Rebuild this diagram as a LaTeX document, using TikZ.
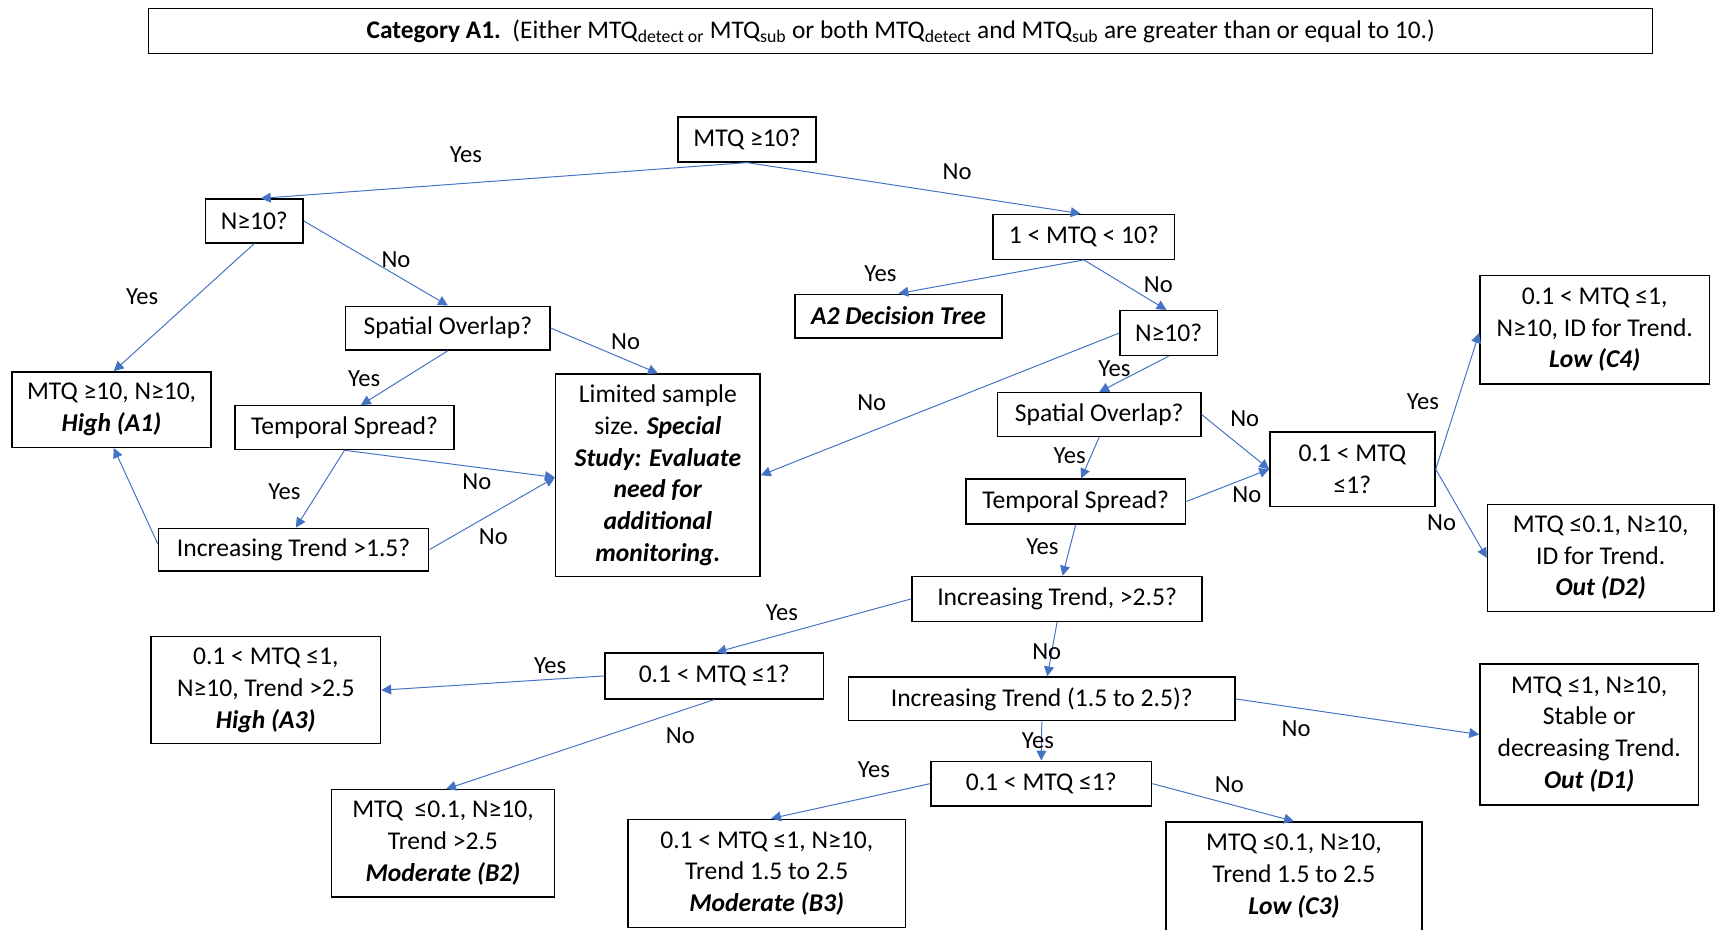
\documentclass[tikz,border=0pt]{standalone}
\usepackage{fontspec}
\setmainfont{Carlito}
\usetikzlibrary{arrows.meta}
\definecolor{lnblue}{HTML}{4472C4}
\tikzset{
  bx/.style={draw=black, line width=1.3pt, inner sep=0pt, align=center, font=\fontsize{23.4}{29}\selectfont},
  conn/.style={draw=lnblue, line width=0.9pt, -{Triangle[width=9pt,length=9pt]}},
  lbl/.style={font=\fontsize{22.5}{26}\selectfont, inner sep=0pt}
}
\begin{document}
\begin{tikzpicture}[x=1pt,y=-1pt]
\useasboundingbox (0,0) rectangle (1568,850);
% title
\node[bx, minimum width=1375, minimum height=41, font=\fontsize{23.2}{26}\selectfont] (title) at (823.5,28.5)
 {\textbf{Category A1.}\ \ (Either MTQ\textsubscript{detect or} MTQ\textsubscript{sub} or both MTQ\textsubscript{detect} and MTQ\textsubscript{sub} are greater than or equal to 10.)};
% decision nodes
\node[bx, minimum width=126, minimum height=41] (mtq) at (683,127.5) {MTQ ≥10?};
\node[bx, minimum width=89, minimum height=40] (nA) at (232.5,202) {N≥10?};
\node[bx, minimum width=166, minimum height=41] (mid) at (991,216.5) {1 < MTQ < 10?};
\node[bx, minimum width=189, minimum height=40] (a2) at (821.5,289) {\textbf{\textit{A2 Decision Tree}}};
\node[bx, minimum width=89, minimum height=41] (nB) at (1068.5,304.5) {N≥10?};
\node[bx, minimum width=187, minimum height=40] (spA) at (409.5,300) {Spatial Overlap?};
\node[bx, minimum width=182, minimum height=69] (a1) at (102,374.5) {MTQ ≥10, N≥10,\\ \textbf{\textit{High (A1)}}};
\node[bx, minimum width=187, minimum height=185] (lim) at (601.5,434.5) {Limited sample\\ size. \textbf{\textit{Special}}\\ \textbf{\textit{Study: Evaluate}}\\ \textbf{\textit{need for}}\\ \textbf{\textit{additional}}\\ \textbf{\textit{monitoring.}}};
\node[bx, minimum width=200, minimum height=40] (tsA) at (315,391) {Temporal Spread?};
\node[bx, minimum width=247, minimum height=39] (itA) at (268.5,502.5) {Increasing Trend >1.5?};
\node[bx, minimum width=186, minimum height=40] (spB) at (1005,379) {Spatial Overlap?};
\node[bx, minimum width=201, minimum height=41] (tsB) at (983.5,458.5) {Temporal Spread?};
\node[bx, minimum width=151, minimum height=68] (q1) at (1236.5,429) {0.1 < MTQ\\ ≤1?};
\node[bx, minimum width=210, minimum height=99] (c4) at (1458,301.5) {0.1 < MTQ ≤1,\\ N≥10, ID for Trend.\\ \textbf{\textit{Low (C4)}}};
\node[bx, minimum width=207, minimum height=98] (d2) at (1463.5,510) {MTQ ≤0.1, N≥10,\\ ID for Trend.\\ \textbf{\textit{Out (D2)}}};
\node[bx, minimum width=265, minimum height=41] (itB) at (966.5,547.5) {Increasing Trend, >2.5?};
\node[bx, minimum width=200, minimum height=42] (q2) at (653,618) {0.1 < MTQ ≤1?};
\node[bx, minimum width=210, minimum height=98] (a3) at (243,631) {0.1 < MTQ ≤1,\\ N≥10, Trend >2.5\\ \textbf{\textit{High (A3)}}};
\node[bx, minimum width=353, minimum height=40] (itC) at (952.5,639) {Increasing Trend (1.5 to 2.5)?};
\node[bx, minimum width=200, minimum height=129] (d1) at (1453,671.5) {MTQ ≤1, N≥10,\\ Stable or\\ decreasing Trend.\\ \textbf{\textit{Out (D1)}}};
\node[bx, minimum width=202, minimum height=41] (q3) at (952,716.5) {0.1 < MTQ ≤1?};
\node[bx, minimum width=204, minimum height=98] (b2) at (405,771) {MTQ\ \ ≤0.1, N≥10,\\ Trend >2.5\\ \textbf{\textit{Moderate (B2)}}};
\node[bx, minimum width=254, minimum height=99] (b3) at (701,798.5) {0.1 < MTQ ≤1, N≥10,\\ Trend 1.5 to 2.5\\ \textbf{\textit{Moderate (B3)}}};
\node[bx, minimum width=234, minimum height=99] (c3) at (1183,801) {MTQ ≤0.1, N≥10,\\ Trend 1.5 to 2.5\\ \textbf{\textit{Low (C3)}}};
% connectors
\draw[conn] (mtq.south) -- ([xshift=6pt]nA.north);
\draw[conn] (mtq.south) -- ([xshift=-3pt]mid.north);
\draw[conn] (nA.south) -- ([xshift=2pt]a1.north);
\draw[conn] (nA.east) -- (spA.north);
\draw[conn] (spA.east) -- (lim.north);
\draw[conn] (spA.south) -- ([xshift=15pt]tsA.north);
\draw[conn] (tsA.south) -- ([xshift=2pt]itA.north);
\draw[conn] (tsA.south) -- ([yshift=-2pt]lim.west);
\draw[conn] (itA.east) -- ([yshift=-2pt]lim.west);
\draw[conn] ([yshift=5pt]itA.west) -- ([xshift=2pt]a1.south);
\draw[conn] (mid.south) -- (a2.north);
\draw[conn] (mid.south) -- ([xshift=-2pt]nB.north);
\draw[conn] (nB.west) -- (lim.east);
\draw[conn] (nB.south) -- (spB.north);
\draw[conn] (spB.east) -- (q1.west);
\draw[conn] (spB.south) -- ([xshift=5pt]tsB.north);
\draw[conn] (tsB.east) -- (q1.west);
\draw[conn] (q1.east) -- ([yshift=-3pt]c4.west);
\draw[conn] (q1.east) -- (d2.west);
\draw[conn] (tsB.south) -- ([xshift=5pt]itB.north);
\draw[conn] (itB.west) -- ([xshift=2pt]q2.north);
\draw[conn] (itB.south) -- ([xshift=5pt]itC.north);
\draw[conn] (q2.west) -- (a3.east);
\draw[conn] (q2.south) -- ([xshift=3pt]b2.north);
\draw[conn] (itC.east) -- (d1.west);
\draw[conn] (itC.south) -- (q3.north);
\draw[conn] (q3.west) -- ([xshift=4pt]b3.north);
\draw[conn] (q3.east) -- (c3.north);
% labels
\node[lbl] (l1) at (426,141) {Yes};
\node[lbl] (l2) at (875,157) {No};
\node[lbl] (l3) at (130,271) {Yes};
\node[lbl] (l4) at (362,237) {No};
\node[lbl] (l5) at (572,312) {No};
\node[lbl] (l6) at (333,346) {Yes};
\node[lbl] (l7) at (260,450) {Yes};
\node[lbl] (l8) at (436,440) {No};
\node[lbl] (l9) at (451,491) {No};
\node[lbl] (l11) at (805,250) {Yes};
\node[lbl] (l12) at (1059,260) {No};
\node[lbl] (l13) at (797,368) {No};
\node[lbl] (l14) at (1019,337) {Yes};
\node[lbl] (l15) at (1138,383) {No};
\node[lbl] (l16) at (978,417) {Yes};
\node[lbl] (l17) at (1140,452) {No};
\node[lbl] (l18) at (1301,367) {Yes};
\node[lbl] (l19) at (1318,478) {No};
\node[lbl] (l20) at (953,500) {Yes};
\node[lbl] (l21) at (715,560) {Yes};
\node[lbl] (l22) at (957,596) {No};
\node[lbl] (l23) at (503,609) {Yes};
\node[lbl] (l24) at (622,673) {No};
\node[lbl] (l25) at (1185,666) {No};
\node[lbl] (l26) at (949,677) {Yes};
\node[lbl] (l27) at (799,704) {Yes};
\node[lbl] (l28) at (1124,717) {No};
\end{tikzpicture}
\end{document}
